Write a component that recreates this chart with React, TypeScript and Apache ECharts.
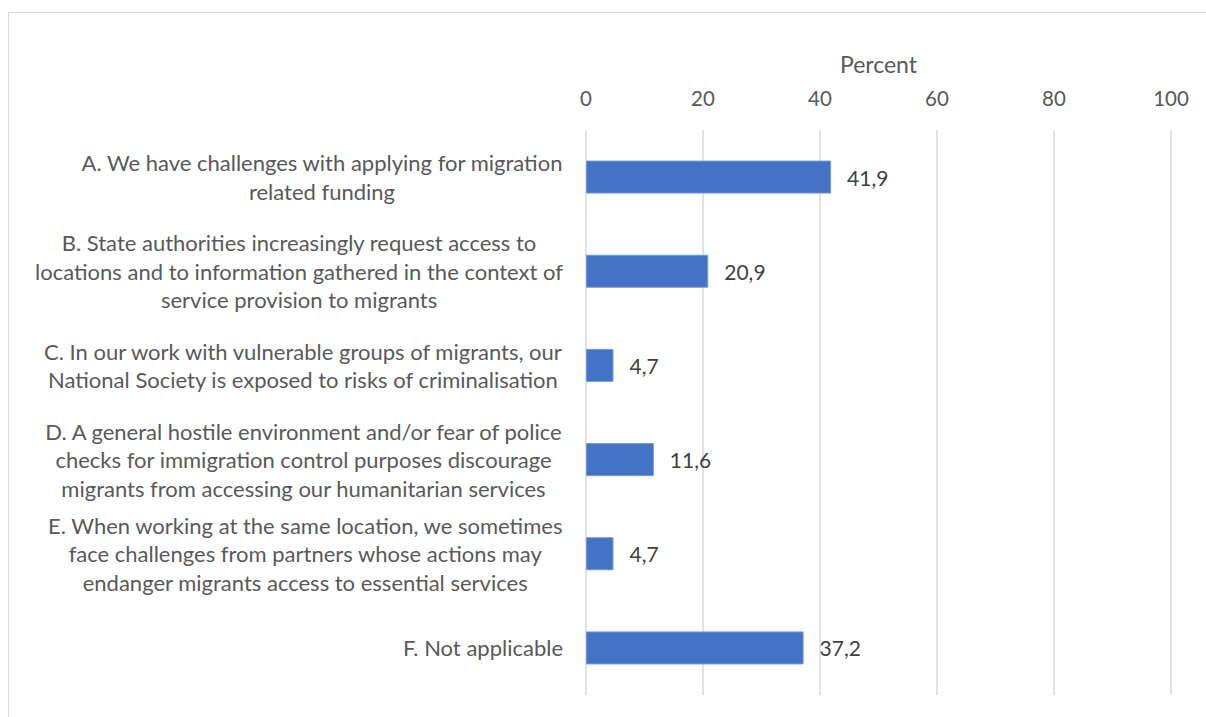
import React, { useEffect, useRef } from 'react';
import * as echarts from 'echarts';

const categories: string[] = [
  'A. We have challenges with applying for migration\nrelated funding',
  'B. State authorities increasingly request access to\nlocations and to information gathered in the context of\nservice provision to migrants',
  'C. In our work with vulnerable groups of migrants, our\nNational Society is exposed to risks of criminalisation',
  'D. A general hostile environment and/or fear of police\nchecks for immigration control purposes discourage\nmigrants from accessing our humanitarian services',
  'E. When working at the same location, we sometimes\nface challenges from partners whose actions may\nendanger migrants access to essential services',
  'F. Not applicable',
];
const values: number[] = [41.9, 20.9, 4.7, 11.6, 4.7, 37.2];
const axisTitle = 'Percent';
const xMin = 0;
const xMax = 100;
const xStep = 20;

const FONT = 'Lato';

export default function App() {
  const ref = useRef<HTMLDivElement>(null);
  useEffect(() => {
    if (!ref.current) return;
    const chart = echarts.init(ref.current, undefined, { renderer: 'svg' });
    chart.setOption({
      animation: false,
      backgroundColor: '#ffffff',
      textStyle: { fontFamily: FONT },
      graphic: [
        {
          type: 'polyline',
          shape: { points: [[8.5, 760], [8.5, 12.5], [1220, 12.5]] },
          style: { stroke: '#d9d9d9', lineWidth: 1, fill: 'none' },
          silent: true,
        },
      ],
      grid: { left: 586, right: 35, top: 130, bottom: 22, containLabel: false },
      xAxis: {
        type: 'value',
        position: 'top',
        min: xMin,
        max: xMax,
        interval: xStep,
        name: axisTitle,
        nameLocation: 'middle',
        nameGap: 55,
        nameTextStyle: { fontSize: 23, color: '#595959', fontFamily: FONT },
        axisLine: { show: false },
        axisTick: { show: false },
        axisLabel: { fontSize: 20.5, color: '#595959', margin: 22, fontFamily: FONT },
        splitLine: { show: true, lineStyle: { color: '#d9d9d9', width: 1.5 } },
      },
      yAxis: {
        type: 'category',
        data: categories,
        inverse: true,
        axisLine: { show: false },
        axisTick: { show: false },
        splitLine: { show: false },
        axisLabel: {
          margin: 23,
          formatter: (v: string) => v.split('\n').map((l) => `{c|${l}}`).join('\n'),
          rich: {
            c: { align: 'center', fontSize: 22, lineHeight: 28.5, color: '#595959', fontFamily: FONT },
          },
        },
      },
      series: [
        {
          type: 'bar',
          data: values,
          barWidth: 33,
          itemStyle: { color: '#4472C4', borderColor: '#7099dc', borderWidth: 1 },
          label: {
            show: true,
            position: 'right',
            distance: 16,
            fontSize: 21,
            color: '#404040',
            fontFamily: FONT,
            formatter: (p: any) => String(p.value.toFixed(1)).replace('.', ','),
          },
        },
      ],
    });
    return () => chart.dispose();
  }, []);
  return (
    <div
      ref={ref}
      style={{ position: 'absolute', left: 0, top: 0, width: 1206, height: 717 }}
    />
  );
}
